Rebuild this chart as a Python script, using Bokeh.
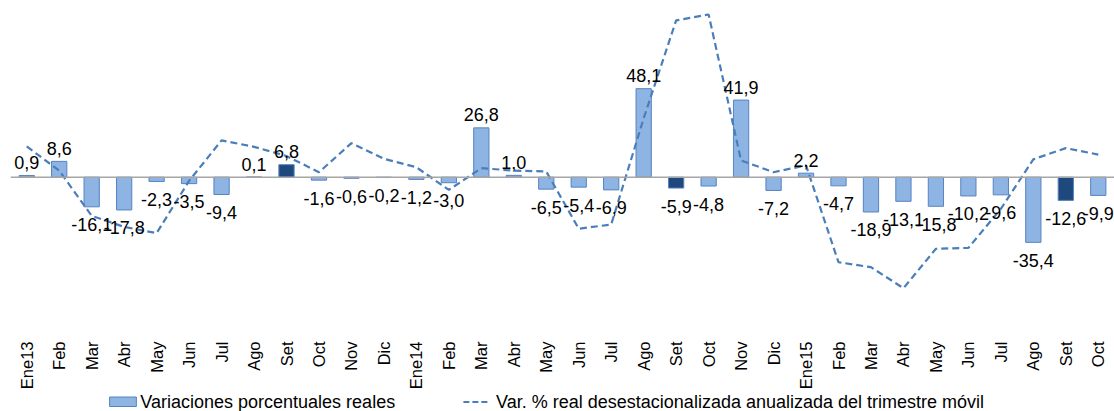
import math
from bokeh.plotting import figure
from bokeh.layouts import column
from bokeh.models import ColumnDataSource, Range1d, FixedTicker, Span
from bokeh.embed import file_html
from bokeh.resources import INLINE
from bokeh.core.properties import value

months = ["Ene13", "Feb", "Mar", "Abr", "May", "Jun", "Jul", "Ago", "Set", "Oct", "Nov", "Dic",
          "Ene14", "Feb", "Mar", "Abr", "May", "Jun", "Jul", "Ago", "Set", "Oct", "Nov", "Dic",
          "Ene15", "Feb", "Mar", "Abr", "May", "Jun", "Jul", "Ago", "Set", "Oct"]

bar_values = [0.9, 8.6, -16.1, -17.8, -2.3, -3.5, -9.4, 0.1, 6.8, -1.6, -0.6, -0.2,
              -1.2, -3.0, 26.8, 1.0, -6.5, -5.4, -6.9, 48.1, -5.9, -4.8, 41.9, -7.2,
              2.2, -4.7, -18.9, -13.1, -15.8, -10.2, -9.6, -35.4, -12.6, -9.9]

line_values = [16.7, 3.6, -21.0, -27.0, -30.4, -2.0, 20.0, 16.5, 11.5, 2.7, 18.5, 10.0,
               5.4, -6.9, 4.9, 3.6, 3.1, -28.0, -25.7, 32.0, 85.2, 88.4, 9.1, 2.7,
               6.4, -46.2, -48.9, -60.3, -38.9, -38.4, -17.2, 9.7, 15.8, 12.3]

bar_name = "Variaciones porcentuales reales"
line_name = "Var. % real desestacionalizada anualizada del trimestre móvil"
highlight_month = "Set"

FONT = "Liberation Sans"
LIGHT_FILL = "#8DB4E2"
DARK_FILL = "#1F497D"
BAR_LINE = "#5683C2"
LINE_COLOR = "#4A7EBB"

n = len(months)
xs = list(range(n))
fills = [DARK_FILL if m == highlight_month else LIGHT_FILL for m in months]
labels = [f"{v:.1f}".replace(".", ",") for v in bar_values]

bars = ColumnDataSource(dict(x=xs, top=bar_values, fill=fills, label=labels))
pos = ColumnDataSource(dict(x=[x for x, v in zip(xs, bar_values) if v >= 0],
                            y=[v for v in bar_values if v >= 0],
                            label=[l for l, v in zip(labels, bar_values) if v >= 0]))
neg = ColumnDataSource(dict(x=[x for x, v in zip(xs, bar_values) if v < 0],
                            y=[v for v in bar_values if v < 0],
                            label=[l for l, v in zip(labels, bar_values) if v < 0]))
line_src = ColumnDataSource(dict(x=xs, y=line_values))

p = figure(width=1114, height=393, output_backend="svg", toolbar_location=None,
           x_range=Range1d(-0.5, n - 0.5), y_range=Range1d(-87.1, 96.0),
           y_axis_location=None, min_border_left=10, min_border_right=0,
           min_border_top=0, min_border_bottom=56)
p.outline_line_color = None
p.xgrid.visible = False
p.ygrid.visible = False
p.background_fill_color = "white"
p.border_fill_color = "white"

p.vbar(x="x", top="top", bottom=0, width=0.47, source=bars,
       fill_color="fill", line_color=BAR_LINE, line_width=1)

p.add_layout(Span(location=0, dimension="width", line_color="#A6A6A6", line_width=1.5))

p.line(x="x", y="y", source=line_src, line_color=LINE_COLOR, line_width=2.2,
       line_dash="7 4")

p.text(x="x", y="y", text="label", source=pos, text_font=value(FONT),
       text_font_size="18px", text_align="center", text_baseline="alphabetic",
       text_color="black", y_offset=-13)
p.text(x="x", y="y", text="label", source=neg, text_font=value(FONT),
       text_font_size="18px", text_align="center", text_baseline="alphabetic",
       text_color="black", y_offset=18)

ax = p.xaxis[0]
ax.ticker = FixedTicker(ticks=xs)
ax.major_label_overrides = {i: m for i, m in enumerate(months)}
ax.major_label_orientation = math.pi / 2
ax.axis_line_color = None
ax.major_tick_line_color = None
ax.minor_tick_line_color = None
ax.major_tick_out = 0
ax.major_tick_in = 0
ax.major_label_text_font = FONT
ax.major_label_text_font_size = "16.5px"
ax.major_label_text_color = "black"
ax.major_label_standoff = 4

# legend strip below the chart (pixel coordinates within an 1114 x 18 strip)
leg = figure(width=1114, height=18, output_backend="svg", toolbar_location=None,
             x_range=Range1d(0, 1114), y_range=Range1d(0, 18),
             x_axis_location=None, y_axis_location=None,
             min_border_left=0, min_border_right=0, min_border_top=0, min_border_bottom=0)
leg.outline_line_color = None
leg.xgrid.visible = False
leg.ygrid.visible = False
leg.background_fill_color = "white"
leg.border_fill_color = "white"

leg.quad(left=[100], right=[127], bottom=[5], top=[14.5], fill_color=LIGHT_FILL,
         line_color=BAR_LINE, line_width=1)
leg.segment(x0=[457], y0=[9.5], x1=[484], y1=[9.5], line_color=LINE_COLOR, line_width=2.2,
            line_dash="6 3")
leg.text(x=[131, 490], y=[9.5, 9.5], text=[bar_name, line_name], text_font=value(FONT),
         text_font_size="18px", text_align="left", text_baseline="middle",
         text_color="black")

layout = column(p, leg, spacing=0)
open("out.html", "w").write(file_html(layout, INLINE))
